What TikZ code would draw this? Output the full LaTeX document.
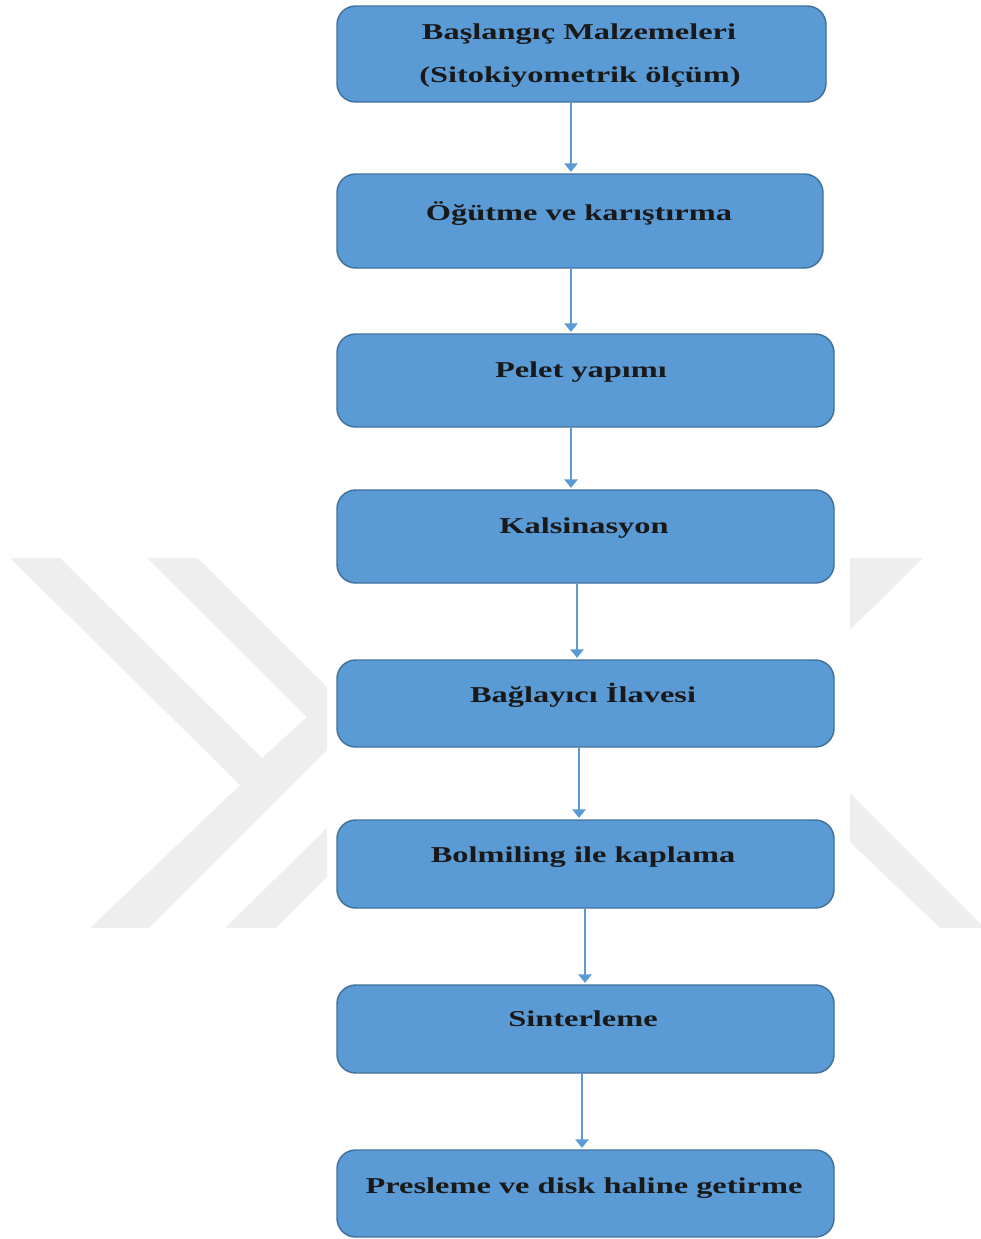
\documentclass[tikz,border=0pt]{standalone}
\usepackage{fontspec}
\setmainfont{Liberation Serif}[FakeStretch=1.43]
\usetikzlibrary{arrows.meta}
\definecolor{boxfill}{RGB}{91,155,213}
\definecolor{boxline}{RGB}{65,113,156}
\definecolor{flowline}{RGB}{91,155,213}
\definecolor{wmark}{RGB}{238,238,238}
\newdimen\pxu \pxu=0.75pt
\begin{document}
\begin{tikzpicture}[x=0.75pt,y=-0.75pt,
  stepbox/.style={draw=boxline, fill=boxfill, line width=1.1pt,
    rounded corners=14pt, inner sep=0pt},
  steptext/.style={anchor=base, font=\bfseries\fontsize{17}{20}\selectfont,
    text=black!90, inner sep=0pt},
  flow/.style={draw=flowline, line width=1.6pt,
    -{Triangle[width=10pt,length=6.5pt]}, shorten >=1pt}]
\useasboundingbox (0,0) rectangle (981,1239);

% background emblem
\fill[wmark] (10,558) -- (60,558) -- (262,758) -- (307,717) -- (147,558)
  -- (198,558) -- (327,687) -- (327,750) -- (149,928) -- (90,928)
  -- (240,785) -- cycle;
\fill[wmark] (327,828) -- (327,877) -- (276,928) -- (225,928) -- cycle;
\fill[wmark] (850,558) -- (923,558) -- (850,630) -- cycle;
\fill[wmark] (850,793) -- (981,924) -- (981,928) -- (940,928) -- (850,842) -- cycle;

% process steps
\node[stepbox, minimum width=366.75pt, minimum height=72pt]    (b1) at (581.5,54)    {};
\node[stepbox, minimum width=364.5pt,  minimum height=70.5pt]  (b2) at (580,221)     {};
\node[stepbox, minimum width=372.75pt, minimum height=69.75pt] (b3) at (585.5,380.5) {};
\node[stepbox, minimum width=372.75pt, minimum height=69.75pt] (b4) at (585.5,536.5) {};
\node[stepbox, minimum width=372.75pt, minimum height=65.25pt] (b5) at (585.5,703.5) {};
\node[stepbox, minimum width=372.75pt, minimum height=66pt]    (b6) at (585.5,864)   {};
\node[stepbox, minimum width=372.75pt, minimum height=66pt]    (b7) at (585.5,1029)  {};
\node[stepbox, minimum width=372.75pt, minimum height=65.25pt] (b8) at (585.5,1193.5){};

% step labels
\node[steptext] (t1a) at (579,39)   {Başlangıç Malzemeleri};
\node[steptext] (t1b) at (580,82)   {(Sitokiyometrik ölçüm)};
\node[steptext] (t2)  at (579,220)  {Öğütme ve karıştırma};
\node[steptext] (t3)  at (581,377)  {Pelet yapımı};
\node[steptext] (t4)  at (584,533)  {Kalsinasyon};
\node[steptext] (t5)  at (583,702)  {Bağlayıcı İlavesi};
\node[steptext] (t6)  at (583,862)  {Bolmiling ile kaplama};
\node[steptext] (t7)  at (583,1026) {Sinterleme};
\node[steptext] (t8)  at (584,1193) {Presleme ve disk haline getirme};

% connectors
\draw[flow] ([xshift=-10.5\pxu]b1.south) -- ([xshift=-9\pxu]b2.north);
\draw[flow] ([xshift=-9\pxu]b2.south)    -- ([xshift=-14.5\pxu]b3.north);
\draw[flow] ([xshift=-14.5\pxu]b3.south) -- ([xshift=-14.5\pxu]b4.north);
\draw[flow] ([xshift=-8.5\pxu]b4.south)  -- ([xshift=-8.5\pxu]b5.north);
\draw[flow] ([xshift=-6.5\pxu]b5.south)  -- ([xshift=-6.5\pxu]b6.north);
\draw[flow] ([xshift=-0.5\pxu]b6.south)  -- ([xshift=-0.5\pxu]b7.north);
\draw[flow] ([xshift=-3.5\pxu]b7.south)  -- ([xshift=-3.5\pxu]b8.north);
\end{tikzpicture}
\end{document}
